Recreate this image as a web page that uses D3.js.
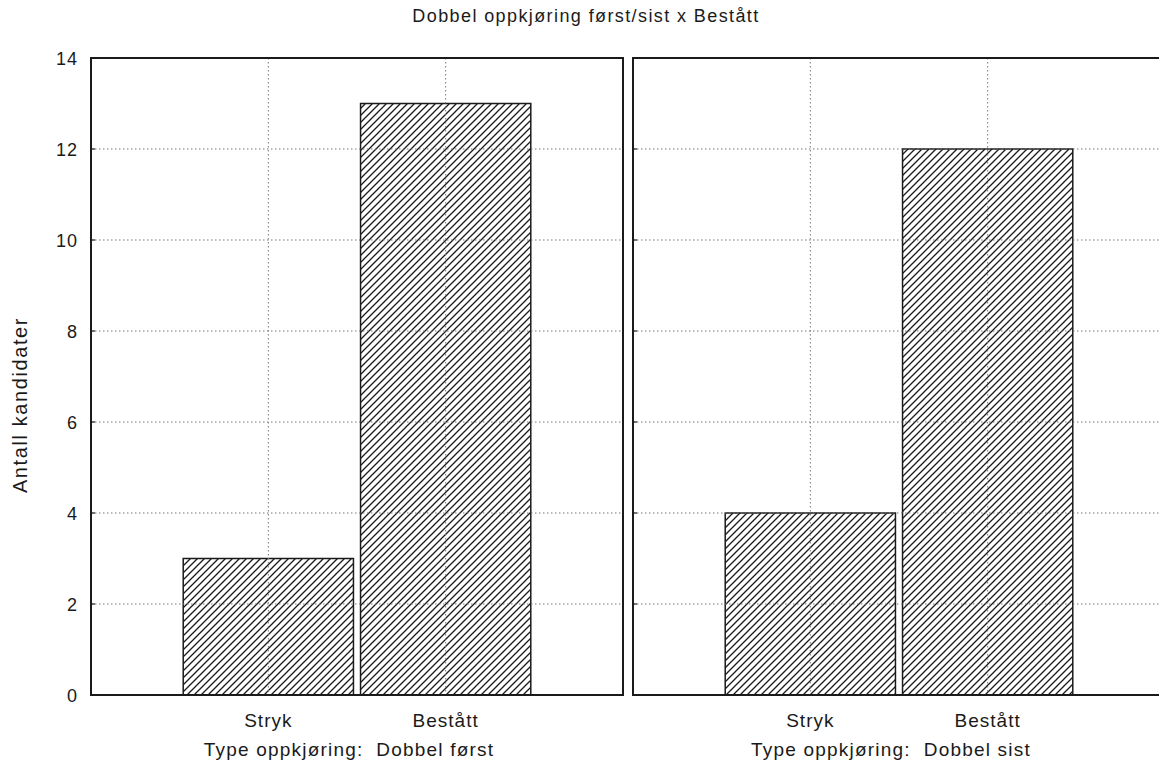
<!DOCTYPE html>
<html>
<head>
<meta charset="utf-8">
<script src="https://cdn.jsdelivr.net/npm/d3@7"></script>
<style>
  body { margin: 0; background: #fff; }
  svg text { font-family: "Liberation Sans", Arial, sans-serif; fill: #1a1a1a; white-space: pre; }
</style>
</head>
<body>
<svg id="chart" width="1159" height="770"></svg>
<script>
// data
const title = "Dobbel oppkjøring først/sist x Bestått";
const yLabel = "Antall kandidater";
const groupLabel = "Type oppkjøring:  ";
const panelNames = ["Dobbel først", "Dobbel sist"];
const categories = ["Stryk", "Bestått"];
const countsFirst = [3, 13];
const countsLast = [4, 12];
const yTicks = [0, 2, 4, 6, 8, 10, 12, 14];

const panelCounts = [countsFirst, countsLast];

let svg = d3.select("#chart");

let plotTop = 58, plotBottom = 695;
let panelW = 532;
let panelX = [91, 633];

let y = d3.scaleLinear()
    .domain([0, 14])
    .range([plotBottom, plotTop]);

// hatch pattern
let hs = 7;
let pat = svg.append("defs").append("pattern")
    .attr("id", "hatch")
    .attr("patternUnits", "userSpaceOnUse")
    .attr("width", hs)
    .attr("height", hs);
pat.append("path")
    .attr("d", `M0,${hs} L${hs},0 M${-hs / 2},${hs / 2} L${hs / 2},${-hs / 2} M${hs / 2},${hs * 1.5} L${hs * 1.5},${hs / 2}`)
    .attr("stroke", "#1a1a1a")
    .attr("stroke-width", 1.3);

// title
svg.append("text")
    .attr("x", 586)
    .attr("y", 22)
    .attr("text-anchor", "middle")
    .style("font-size", "18px")
    .style("letter-spacing", "1.4px")
    .text(title);

// y axis label
svg.append("text")
    .attr("transform", "translate(27,405) rotate(-90)")
    .attr("text-anchor", "middle")
    .style("font-size", "20px")
    .style("letter-spacing", "1.6px")
    .text(yLabel);

// y tick labels
svg.selectAll(".ytick")
    .data(yTicks)
    .join("text")
    .attr("class", "ytick")
    .attr("x", 78)
    .attr("y", d => y(d) + 6.5)
    .attr("text-anchor", "end")
    .style("font-size", "18px")
    .style("letter-spacing", "1px")
    .text(d => d);

for (let p = 0; p < panelNames.length; p++) {

    let x0 = panelX[p];
    let x = d3.scaleLinear()
        .domain([0, 3])
        .range([x0, x0 + panelW]);

    let g = svg.append("g").attr("class", "panel" + p);

    // bars
    let barW = x(0.96) - x(0);
    g.selectAll("rect.bar")
        .data(panelCounts[p])
        .join("rect")
        .attr("class", "bar")
        .attr("x", (d, i) => x(i + 1) - barW / 2)
        .attr("y", d => y(d))
        .attr("width", barW)
        .attr("height", d => y(0) - y(d))
        .attr("fill", "url(#hatch)")
        .attr("stroke", "#1a1a1a")
        .attr("stroke-width", 1.5);

    // grid on top, dotted
    g.selectAll("line.hgrid")
        .data(yTicks.filter(d => d > 0 && d < 14))
        .join("line")
        .attr("class", "hgrid")
        .attr("x1", x(0))
        .attr("x2", x(3))
        .attr("y1", d => y(d))
        .attr("y2", d => y(d))
        .attr("stroke", "#777")
        .attr("stroke-width", 1)
        .attr("stroke-dasharray", "1.5,2.5");

    g.selectAll("line.vgrid")
        .data(categories)
        .join("line")
        .attr("class", "vgrid")
        .attr("x1", (d, i) => x(i + 1))
        .attr("x2", (d, i) => x(i + 1))
        .attr("y1", y(14))
        .attr("y2", y(0))
        .attr("stroke", "#777")
        .attr("stroke-width", 1)
        .attr("stroke-dasharray", "1.5,2.5");

    // small inner ticks
    g.selectAll("line.tick")
        .data(yTicks.filter(d => d > 0 && d < 14))
        .join("line")
        .attr("class", "tick")
        .attr("x1", x(0))
        .attr("x2", x(0) + 4)
        .attr("y1", d => y(d))
        .attr("y2", d => y(d))
        .attr("stroke", "#1a1a1a")
        .attr("stroke-width", 1.2);

    // frame
    g.append("rect")
        .attr("x", x(0))
        .attr("y", y(14))
        .attr("width", x(3) - x(0))
        .attr("height", y(0) - y(14))
        .attr("fill", "none")
        .attr("stroke", "#1a1a1a")
        .attr("stroke-width", 2);

    // category labels
    g.selectAll("text.cat")
        .data(categories)
        .join("text")
        .attr("class", "cat")
        .attr("x", (d, i) => x(i + 1))
        .attr("y", 727)
        .attr("text-anchor", "middle")
        .style("font-size", "19px")
        .style("letter-spacing", "1px")
        .text(d => d);

    g.append("text")
        .attr("x", x0 + panelW / 2 - 8)
        .attr("y", 756)
        .attr("text-anchor", "middle")
        .style("font-size", "19px")
        .style("letter-spacing", "1.2px")
        .text(groupLabel + panelNames[p]);
}
</script>
</body>
</html>
